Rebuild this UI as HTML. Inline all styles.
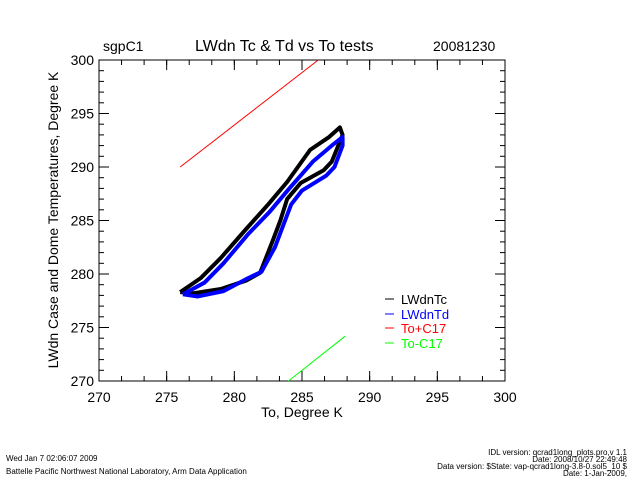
<!DOCTYPE html>
<html><head><meta charset="utf-8"><style>
body{margin:0;background:#fff;width:640px;height:480px;overflow:hidden}
text{font-family:"Liberation Sans",sans-serif}
</style></head><body>
<svg id="chart" width="640" height="480" xmlns="http://www.w3.org/2000/svg">
<text x="103" y="51" font-size="14">sgpC1</text>
<text x="195" y="51" font-size="16">LWdn Tc &amp; Td vs To tests</text>
<text x="433" y="51" font-size="14">20081230</text>
<rect x="99" y="60" width="406" height="321" fill="none" stroke="#000" stroke-width="1"/>
<g id="axes"></g>
<g id="series"></g>
<text x="302" y="417" font-size="14" text-anchor="middle">To, Degree K</text>
<text transform="translate(58,220) rotate(-90)" font-size="14" text-anchor="middle">LWdn Case and Dome Temperatures, Degree K</text>
<g font-size="13">
<line x1="385" y1="299" x2="394" y2="299" stroke="#000"/><text x="401" y="304" fill="#000">LWdnTc</text>
<line x1="385" y1="314" x2="394" y2="314" stroke="#0000ff"/><text x="401" y="319" fill="#0000ff">LWdnTd</text>
<line x1="385" y1="328" x2="394" y2="328" stroke="#ff0000"/><text x="401" y="333" fill="#ff0000">To+C17</text>
<line x1="385" y1="343" x2="394" y2="343" stroke="#00ff00"/><text x="401" y="348" fill="#00ff00">To-C17</text>
</g>
<g font-size="8">
<text x="6" y="461">Wed Jan  7 02:06:07 2009</text>
<text x="6" y="474">Battelle Pacific Northwest National Laboratory, Arm Data Application</text>
<text x="627" y="455" text-anchor="end">IDL version: qcrad1long_plots.pro,v 1.1</text>
<text x="627" y="462" text-anchor="end">Date: 2008/10/27 22:49:48</text>
<text x="627" y="469" text-anchor="end">Data version: $State: vap-qcrad1long-3.8-0.sol5_10 $</text>
<text x="627" y="476" text-anchor="end">Date: 1-Jan-2009,</text>
</g>
</svg>
<script>
const xTicks=[270,275,280,285,290,295,300];
const yTicks=[270,275,280,285,290,295,300];
const redX=[276,286.2];
const redY=[290,300];
const greenX=[284,288.2];
const greenY=[270,274.2];
const tcX=[276,277.5,279,280.8,282.5,283.9,285.6,287,287.8,288,287.2,286.6,284.9,283.9,283.4,282.8,281.9,280.9,279,277,276];
const tcY=[278.3,279.6,281.5,284.1,286.5,288.6,291.6,292.8,293.7,293,290.5,289.7,288.5,287,285,283,280.1,279.4,278.6,278.2,278.3];
const tdX=[276.2,277.8,279.2,281,282.6,284,285.8,287.2,288,288,287.4,286.8,285,284.2,283.6,283,282,281,279.2,277.3,276.2];
const tdY=[278.1,279.2,281,283.7,285.8,287.9,290.5,292,292.8,292,290,289.2,287.8,286.5,284.5,282.5,280.2,279.6,278.4,277.9,278.1];
const NS="http://www.w3.org/2000/svg";
const sx=v=>99+(v-270)*406/30, sy=v=>381-(v-270)*321/30;
const axes=document.getElementById('axes'), ser=document.getElementById('series');
function mk(t,a,p){const e=document.createElementNS(NS,t);for(const k in a)e.setAttribute(k,a[k]);p.appendChild(e);return e;}
xTicks.forEach(v=>{const x=sx(v);
 const t=mk('text',{x:x,y:402,'font-size':14,'text-anchor':'middle'},axes);t.textContent=v;
 
 
 mk('line',{x1:x,y1:381,x2:x,y2:371,stroke:'#000'},axes);mk('line',{x1:x,y1:60,x2:x,y2:70,stroke:'#000'},axes);});
for(let v=270;v<300;v+=5/3){const x=sx(v);mk('line',{x1:x,y1:381,x2:x,y2:376,stroke:'#000'},axes);mk('line',{x1:x,y1:60,x2:x,y2:65,stroke:'#000'},axes);}
yTicks.forEach(v=>{const y=sy(v);
 const t=mk('text',{x:94,y:y+5,'font-size':14,'text-anchor':'end'},axes);t.textContent=v;
 
 
 mk('line',{x1:99,y1:y,x2:109,y2:y,stroke:'#000'},axes);mk('line',{x1:505,y1:y,x2:495,y2:y,stroke:'#000'},axes);});
for(let v=270;v<300;v++){const y=sy(v);mk('line',{x1:99,y1:y,x2:104,y2:y,stroke:'#000'},axes);mk('line',{x1:505,y1:y,x2:500,y2:y,stroke:'#000'},axes);}
function line(xs,ys,c,w,name){const e=mk('polyline',{points:xs.map((x,i)=>sx(x)+','+sy(ys[i])).join(' '),fill:'none',stroke:c,'stroke-width':w,'stroke-linejoin':'round'},ser);
 
 }
line(redX,redY,'#ff0000',1,'series-to-plus-c17');
line(greenX,greenY,'#00ff00',1,'series-to-minus-c17');
line(tcX,tcY,'#000',4,'series-lwdntc');
line(tdX,tdY,'#0000ff',4,'series-lwdntd');
</script>
</body></html>
